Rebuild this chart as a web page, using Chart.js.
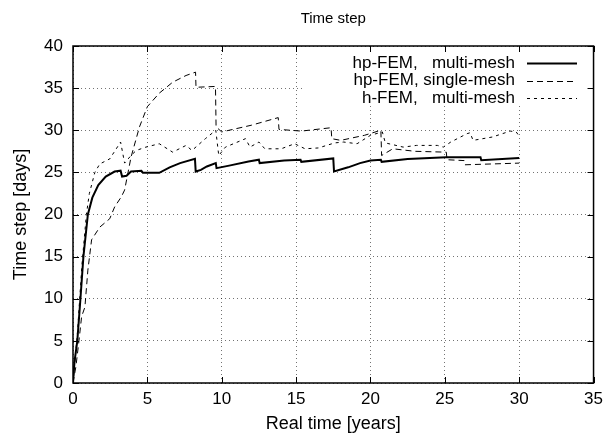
<!DOCTYPE html>
<html>
<head>
<meta charset="utf-8">
<script src="https://cdn.jsdelivr.net/npm/chart.js@4/dist/chart.umd.min.js"></script>
<style>
  html, body { margin: 0; padding: 0; background: #fff; }
  #chartStep { display: block; }
</style>
</head>
<body>
<canvas id="chartStep" width="609" height="442"></canvas>
<script>
// values (time in years, step in days)
const xTicks = [0, 5, 10, 15, 20, 25, 30, 35];
const yTicks = [0, 5, 10, 15, 20, 25, 30, 35, 40];

const multiT = [0, 0.1, 0.29, 0.5, 0.7, 1.0, 1.3, 1.7, 2.2, 2.8, 3.2, 3.3, 3.6, 3.9, 4.6, 4.7, 5.8, 6.5, 7.2, 8.2, 8.25, 8.6, 9.0, 9.6, 9.65, 10.5, 11.8, 12.5, 12.55, 14.2, 15.3, 15.35, 17.5, 17.55, 18.5, 19.3, 20.0, 20.7, 20.75, 22.5, 25.1, 27.4, 27.45, 30.0];
const multiV = [0, 2.5, 5, 10, 15, 20, 22, 23.5, 24.5, 25.1, 25.2, 24.5, 24.6, 25.1, 25.2, 24.95, 24.95, 25.6, 26.1, 26.6, 25.1, 25.3, 25.7, 26.1, 25.5, 25.8, 26.3, 26.5, 26.1, 26.4, 26.5, 26.25, 26.65, 25.1, 25.6, 26.1, 26.4, 26.5, 26.25, 26.6, 26.8, 26.8, 26.45, 26.7];

const singleT = [0, 0.2, 0.4, 0.58, 0.8, 1.0, 1.25, 1.8, 2.47, 2.8, 3.25, 3.47, 3.9, 4.47, 5.0, 5.8, 6.7, 7.6, 8.24, 8.27, 9.58, 9.62, 10.0, 12.0, 13.8, 13.85, 15.35, 17.35, 17.4, 18.0, 19.6, 20.7, 20.75, 21.5, 23.0, 25.1, 25.15, 26.3, 26.35, 30.0];
const singleV = [0, 2, 5, 7.9, 9, 13.4, 17, 18.5, 19.5, 20.9, 22.1, 22.9, 26.8, 30.4, 32.8, 34.4, 35.7, 36.5, 36.9, 35.1, 35.2, 30.4, 29.8, 30.6, 31.5, 30.1, 29.9, 30.3, 29.0, 28.8, 29.4, 30.0, 27.0, 27.8, 27.5, 27.4, 26.5, 26.4, 25.9, 26.1];

const hT = [0, 0.15, 0.3, 0.45, 0.6, 0.8, 0.9, 1.1, 1.47, 1.8, 2.47, 2.8, 3.2, 3.47, 3.9, 4.25, 4.9, 5.8, 6.7, 7.6, 8.0, 8.9, 9.6, 9.8, 10.25, 11.6, 11.9, 12.5, 12.9, 14.0, 14.9, 15.6, 16.5, 17.6, 18.2, 19.1, 20.0, 20.8, 21.0, 22.2, 23.1, 24.5, 24.9, 25.4, 26.5, 26.7, 26.9, 28.2, 29.4, 29.8, 30.0];
const hV = [0, 3, 6, 10, 14, 18, 20, 22.5, 25, 26, 26.6, 27.5, 28.6, 26.1, 27, 27.6, 28.0, 28.4, 27.4, 28.2, 27.6, 29.0, 30.0, 27.0, 28.0, 29.0, 28.0, 28.6, 27.8, 27.8, 28.4, 27.8, 27.9, 28.5, 28.6, 28.4, 29.4, 29.8, 28.5, 28.0, 28.2, 28.2, 28.0, 28.6, 29.6, 29.7, 28.8, 29.2, 29.9, 29.8, 29.3];

const seriesLabels = ['hp-FEM,   multi-mesh', 'hp-FEM, single-mesh', 'h-FEM,   multi-mesh'];

const FONT = 'Liberation Sans, Arial, Helvetica, sans-serif';
const toPoints = (ts, vs) => ts.map((t, i) => ({ x: t, y: vs[i] }));

// legend box drawn inside the plot like gnuplot's key
const keyPlugin = {
  id: 'gnuKey',
  beforeDatasetsDraw(chart) {
    const { ctx } = chart;
    ctx.save();
    ctx.fillStyle = '#fff';
    ctx.fillRect(305, 47, 286, 59);
    ctx.restore();
  },
  afterDatasetsDraw(chart) {
    const { ctx } = chart;
    ctx.save();
    ctx.font = `17px ${FONT}`;
    ctx.fillStyle = '#000';
    ctx.textAlign = 'right';
    ctx.textBaseline = 'middle';
    chart.data.datasets.forEach((ds, i) => {
      const y = 63 + i * 17.5;
      ctx.fillText(ds.label, 515, y);
      ctx.strokeStyle = '#000';
      ctx.lineWidth = ds.borderWidth;
      ctx.setLineDash(ds.borderDash || []);
      ctx.beginPath();
      ctx.moveTo(527, Math.round(y) + 0.5);
      ctx.lineTo(577, Math.round(y) + 0.5);
      ctx.stroke();
    });
    ctx.restore();
  },
  afterDraw(chart) {
    const { ctx, chartArea: a, scales } = chart;
    ctx.save();
    ctx.strokeStyle = '#000';
    ctx.lineWidth = 1;
    ctx.setLineDash([]);
    ctx.beginPath();
    xTicks.forEach((t) => {
      const px = Math.round(scales.x.getPixelForValue(t)) + 0.5;
      ctx.moveTo(px, a.bottom); ctx.lineTo(px, a.bottom - 6);
      ctx.moveTo(px, a.top); ctx.lineTo(px, a.top + 6);
    });
    yTicks.forEach((v) => {
      const py = Math.round(scales.y.getPixelForValue(v)) + 0.5;
      ctx.moveTo(a.left, py); ctx.lineTo(a.left + 6, py);
      ctx.moveTo(a.right, py); ctx.lineTo(a.right - 6, py);
    });
    ctx.stroke();
    ctx.lineWidth = 1.5;
    ctx.strokeRect(a.left, a.top, a.right - a.left, a.bottom - a.top);
    ctx.restore();
  },
};

const axisCommon = {
  type: 'linear',
  grid: { color: 'rgba(0,0,0,0.55)', lineWidth: 1, drawTicks: false },
  border: { display: false, dash: [1, 3] },
};

new Chart(document.getElementById('chartStep'), {
  type: 'line',
  data: {
    datasets: [
      { label: seriesLabels[0], data: toPoints(multiT, multiV), borderColor: '#000', borderWidth: 2, pointRadius: 0, tension: 0 },
      { label: seriesLabels[1], data: toPoints(singleT, singleV), borderColor: '#000', borderWidth: 1, borderDash: [6, 4], pointRadius: 0, tension: 0 },
      { label: seriesLabels[2], data: toPoints(hT, hV), borderColor: '#000', borderWidth: 1, borderDash: [3, 4], pointRadius: 0, tension: 0 },
    ],
  },
  options: {
    responsive: false,
    animation: false,
    layout: { padding: { left: 0, right: 12, top: 0, bottom: 0 } },
    plugins: {
      legend: { display: false },
      tooltip: { enabled: false },
      title: { display: true, fullSize: false, text: 'Time step', color: '#000', font: { family: FONT, size: 15, weight: 'normal' }, padding: { top: 10, bottom: 18 } },
    },
    scales: {
      x: {
        ...axisCommon,
        min: 0, max: 35,
        afterBuildTicks: (s) => { s.ticks = xTicks.map((value) => ({ value })); },
        ticks: { color: '#000', font: { family: FONT, size: 17 }, padding: 6 },
        title: { display: true, text: 'Real time [years]', color: '#000', font: { family: FONT, size: 18 }, padding: { top: 0, bottom: 7 } },
        afterFit: (s) => { s.height = 59; },
      },
      y: {
        ...axisCommon,
        min: 0, max: 40,
        afterBuildTicks: (s) => { s.ticks = yTicks.map((value) => ({ value })); },
        ticks: { color: '#000', font: { family: FONT, size: 17 }, padding: 10 },
        title: { display: true, text: 'Time step [days]', color: '#000', font: { family: FONT, size: 18 }, padding: { top: 10, bottom: 0 } },
        afterFit: (s) => { s.width = 73; },
      },
    },
  },
  plugins: [keyPlugin],
});
</script>
</body>
</html>
